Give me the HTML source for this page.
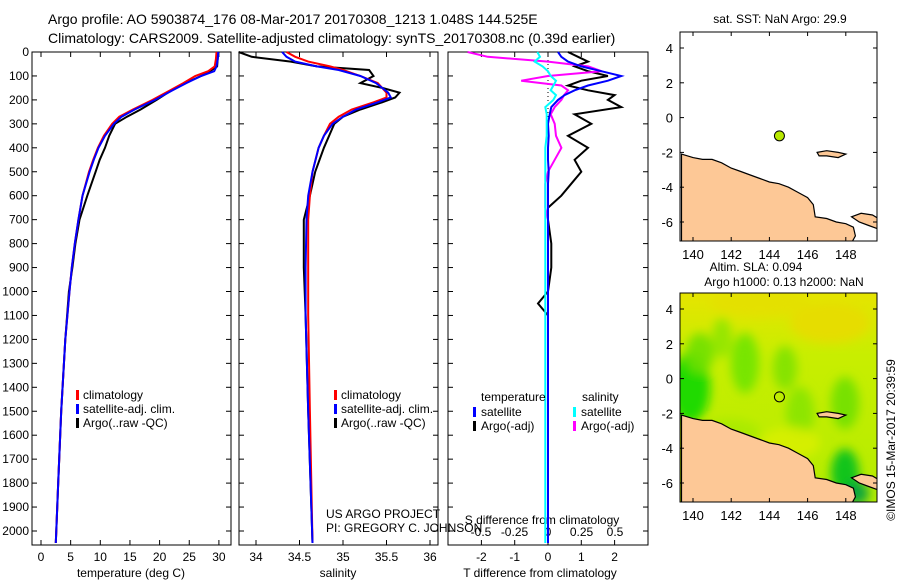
<!DOCTYPE html>
<html><head><meta charset="utf-8"><style>
body{margin:0;background:#fff;}
svg{display:block;font-family:"Liberation Sans",sans-serif;}
text{font-size:12px;fill:#000;}
</style></head><body>
<svg id="fig" width="900" height="580" xmlns="http://www.w3.org/2000/svg">
<defs>
<linearGradient id="slagrad" x1="0" y1="0" x2="0" y2="1">
<stop offset="0" stop-color="#e6e400"/><stop offset="0.3" stop-color="#c8ee00"/><stop offset="1" stop-color="#b4ec00"/>
</linearGradient>
<filter id="blur" x="-50%" y="-50%" width="200%" height="200%"><feGaussianBlur stdDeviation="5"/></filter>
<clipPath id="clip0"><rect x="680" y="32" width="197" height="209"/></clipPath>
<clipPath id="clip1"><rect x="680" y="293" width="197" height="209"/></clipPath>
</defs>
<text x="48" y="24" style="font-size:14px">Argo profile: AO 5903874_176 08-Mar-2017 20170308_1213 1.048S 144.525E</text>
<text x="48" y="43" style="font-size:14px">Climatology: CARS2009. Satellite-adjusted climatology: synTS_20170308.nc (0.39d earlier)</text>
<g id="g"></g>
</svg>
<script>
// ---- data ----
const depthT = [0,30,60,80,100,130,160,200,240,270,300,350,400,450,500,600,700,800,900,1000,1200,1500,1800,2050];
const tempClim = [29.6,29.5,29.3,28.2,26.0,24.0,21.8,18.8,15.5,13.2,12.0,10.6,9.6,8.8,8.1,7.0,6.3,5.7,5.2,4.8,4.1,3.4,2.9,2.5];
const tempSat  = [29.9,29.8,29.6,29.2,27.0,24.5,22.2,19.2,15.8,13.6,12.3,10.8,9.7,8.9,8.2,7.0,6.3,5.7,5.2,4.8,4.1,3.4,2.9,2.5];
const tempArgo = [29.9,29.8,29.7,28.5,27.0,24.3,22.0,19.5,16.8,14.5,12.5,11.5,10.8,9.9,9.2,7.8,6.5,5.8,5.3,4.7,4.1,3.4,2.9,2.5];
const depthS = [0,20,40,60,75,100,130,150,170,190,210,240,270,300,350,400,500,600,700,900,1100,1500,2050];
const salClim = [34.35,34.45,34.6,34.85,35.0,35.2,35.4,35.45,35.5,35.5,35.35,35.1,34.95,34.85,34.78,34.72,34.65,34.62,34.6,34.6,34.6,34.62,34.65];
const salSat  = [34.3,34.35,34.45,34.7,34.95,35.2,35.38,35.45,35.52,35.55,35.4,35.15,35.0,34.88,34.78,34.72,34.65,34.6,34.58,34.57,34.57,34.6,34.65];
const salArgo = [33.8,33.95,34.4,34.7,35.3,35.35,35.2,35.45,35.65,35.6,35.45,35.2,35.0,34.9,34.84,34.78,34.68,34.62,34.55,34.55,34.57,34.6,34.65];
const depthD = [0,20,40,60,80,100,120,140,160,180,200,230,260,300,350,400,450,500,550,600,650,700,800,900,1000,1050,1100,1300,1600,2050];
const tDiffSat  = [0.3,0.4,0.6,1.0,1.6,2.2,1.8,1.2,0.8,0.5,0.3,0.1,0.05,0.0,0.02,0.0,0.0,0.02,0.0,0.0,0.0,0.0,0.0,0.0,0.0,0.0,0.0,0.0,0.0,0.0];
const tDiffArgo = [0.6,0.9,1.2,0.8,1.2,1.8,1.0,0.6,1.2,2.0,1.8,2.2,0.8,1.3,0.6,1.2,0.8,1.0,0.7,0.4,0.0,0.0,0.1,0.1,0.0,-0.3,0.0,0.0,0.0,0.0];
const sDiffSat  = [-0.08,-0.06,-0.1,-0.04,0.0,0.02,0.06,0.04,0.02,0.06,0.04,-0.02,-0.01,-0.01,-0.01,-0.02,-0.02,-0.02,-0.02,-0.02,-0.02,-0.02,-0.02,-0.02,-0.02,-0.02,-0.02,-0.02,-0.02,-0.02];
const sDiffArgo = [-0.6,-0.45,0.0,0.3,0.4,0.0,-0.2,0.1,0.15,0.12,0.1,0.05,0.02,0.05,0.06,0.1,0.05,0.0,-0.02,-0.02,-0.02,0.0,0.0,0.0,0.0,0.0,0.0,0.0,0.0,0.0];
const depthTicks = [0,100,200,300,400,500,600,700,800,900,1000,1100,1200,1300,1400,1500,1600,1700,1800,1900,2000];
const tempTicks = [0,5,10,15,20,25,30];
const salTicks = [34,34.5,35,35.5,36];
const tdTicks = [-2,-1,0,1,2];
const sdTicks = [-0.5,-0.25,0,0.25,0.5];
const sdTickLabels = ["-0.5","-0.25","0","0.25","0.5"];
const lonTicks = [140,142,144,146,148];
const latTicks = [4,2,0,-2,-4,-6];
const coastLon = [139.4,140,140.5,141,141.5,142,142.5,143,143.5,144,144.5,145,145.5,146,146.3,146.4,147,147.5,148,148.4,148.5,148.3,148.6,149.7,149.7,139.4];
const coastLat = [-2.1,-2.3,-2.4,-2.4,-2.6,-2.9,-3.1,-3.3,-3.5,-3.7,-3.8,-4.0,-4.3,-4.6,-5.0,-5.7,-5.8,-6.0,-6.1,-6.3,-6.8,-7.2,-7.2,-7.2,-7.2,-7.2];
const nbLon = [148.3,148.8,149.4,149.7,149.7,149.2,148.7,148.3];
const nbLat = [-5.7,-5.5,-5.6,-5.8,-6.4,-6.2,-6.0,-5.7];
const islLon = [146.5,147.0,147.6,148.0,147.6,147.0,146.6];
const islLat = [-2.0,-1.9,-2.0,-2.1,-2.3,-2.2,-2.2];
const argoLon = 144.525, argoLat = -1.048;
// ---- helpers ----
const NS="http://www.w3.org/2000/svg";
const G=document.getElementById('g');
function el(t,a,p){const e=document.createElementNS(NS,t);for(const k in a)e.setAttribute(k,a[k]);(p||G).appendChild(e);return e;}
const Y0=52, YS=0.2395;
function yD(d){return Y0+d*YS;}
function panel(x0,x1,name){
  const r=el('rect',{x:x0,y:52,width:x1-x0,height:493,fill:'none',stroke:'#000','stroke-width':1});
  
  
}
function line(xs,ys,fx,color,name,w){
  let d='';xs.forEach((v,i)=>{d+=(i?'L':'M')+fx(v).toFixed(1)+','+yD(ys[i]).toFixed(1);});
  const p=el('path',{d:d,fill:'none',stroke:color,'stroke-width':w||2});
  
  
}
function txt(x,y,s,anchor,name,size,parent){
  const t=el('text',{x:x,y:y,'text-anchor':anchor||'start'},parent);t.textContent=s;
  if(size)t.style.fontSize=size+'px';
  
  
  return t;
}
function xticks(fx,ticks,labels,ylab,name){
  ticks.forEach((v,i)=>{const x=fx(v);
    el('line',{x1:x,x2:x,y1:545,y2:540,stroke:'#000'});el('line',{x1:x,x2:x,y1:52,y2:57,stroke:'#000'});
    txt(x,ylab,labels?labels[i]:String(v),'middle',name);});
}
// panel 1
const fT=v=>41+v*5.93;
panel(32,231,'temperature-panel');
depthTicks.forEach(d=>{const y=yD(d);el('line',{x1:32,x2:37,y1:y,y2:y,stroke:'#000'});el('line',{x1:226,x2:231,y1:y,y2:y,stroke:'#000'});txt(29,y+4,String(d),'end','depth-tick-label');});
xticks(fT,tempTicks,null,561,'temp-tick-label');
txt(131,577,'temperature (deg C)','middle','temp-axis-title');
line(tempArgo,depthT,fT,'#000','temp-argo-line');
line(tempClim,depthT,fT,'#f00','temp-clim-line');
line(tempSat,depthT,fT,'#00f','temp-sat-line');
// panel 2
const fS=v=>256+(v-34)*87;
panel(239,438,'salinity-panel');
depthTicks.forEach(d=>{const y=yD(d);el('line',{x1:239,x2:244,y1:y,y2:y,stroke:'#000'});el('line',{x1:433,x2:438,y1:y,y2:y,stroke:'#000'});});
xticks(fS,salTicks,null,561,'sal-tick-label');
txt(338,577,'salinity','middle','sal-axis-title');
line(salArgo,depthS,fS,'#000','sal-argo-line');
line(salClim,depthS,fS,'#f00','sal-clim-line');
line(salSat,depthS,fS,'#00f','sal-sat-line');
// legends
[[76,'temp-legend'],[334,'sal-legend']].forEach(([lx,n])=>{
  [['#f00','climatology'],['#00f','satellite-adj. clim.'],['#000','Argo(..raw -QC)']].forEach((it,i)=>{
    const y=398+i*14;el('rect',{x:lx,y:y-8,width:3,height:10,fill:it[0]});txt(lx+7,y+1,it[1],'start',n+'-entry');});
});
txt(326,518,'US ARGO PROJECT','start','credit-line-1');
txt(326,532,'PI: GREGORY C. JOHNSON','start','credit-line-2');
// panel 3
const fTd=v=>548+v*33.3, fSd=v=>548+v*134;
panel(448,648,'difference-panel');
depthTicks.forEach(d=>{const y=yD(d);el('line',{x1:448,x2:453,y1:y,y2:y,stroke:'#000'});el('line',{x1:643,x2:648,y1:y,y2:y,stroke:'#000'});});
el('line',{x1:548,x2:548,y1:52,y2:130,stroke:'#000','stroke-dasharray':'1,3'});
xticks(fTd,tdTicks,null,561,'tdiff-tick-label');
sdTicks.forEach((v,i)=>txt(fSd(v),536,sdTickLabels[i],'middle','sdiff-tick-label'));
txt(542,524,'S difference from climatology','middle','sdiff-axis-title');
txt(540,577,'T difference from climatology','middle','tdiff-axis-title');
line(tDiffArgo,depthD,fTd,'#000','tdiff-argo-line');
line(sDiffArgo,depthD,fSd,'#f0f','sdiff-argo-line');
line(tDiffSat,depthD,fTd,'#00f','tdiff-sat-line');
line(sDiffSat,depthD,fSd,'#0ff','sdiff-sat-line');
txt(481,401,'temperature','start','diff-legend-temp-header');
txt(582,401,'salinity','start','diff-legend-sal-header');
[['#00f','satellite',473],['#000','Argo(-adj)',473],['#0ff','satellite',573],['#f0f','Argo(-adj)',573]].forEach((it,i)=>{
  const y=415+(i%2)*14;el('rect',{x:it[2],y:y-8,width:3,height:10,fill:it[0]});txt(it[2]+8,y+1,it[1],'start','diff-legend-entry');});
// maps
const fLon=v=>693+(v-140)*19.1;
function map(y0,name,field,clip){
  const fLat=v=>y0+16+(4-v)*17.4;
  const x0=680,w=197,h=209;
  const grp=el('g',{});
  const inner=el('g',{'clip-path':'url(#'+clip+')'},grp);
  el('rect',{x:x0,y:y0,width:w,height:h,fill:field?'url(#slagrad)':'#fff'},inner);
  if(field){
    const bl=el('g',{filter:'url(#blur)'},inner);
    const blobs=[[690,y0+95,20,35,'#10d800'],[700,y0+60,14,20,'#70e000'],[745,y0+70,14,30,'#70e400'],[722,y0+45,10,20,'#90e600'],[785,y0+75,12,22,'#80e200'],[800,y0+120,14,26,'#88e400'],[845,y0+110,14,26,'#70e000'],[830,y0+30,40,20,'#e8dc00'],[760,y0+10,50,14,'#e4e000'],[790,y0+150,30,16,'#d8f000'],[845,y0+180,14,24,'#00c020'],[857,y0+200,12,12,'#00a040'],[810,y0+200,14,10,'#40d000'],[730,y0+140,30,14,'#a8ea00']];
    blobs.forEach(b=>el('ellipse',{cx:b[0],cy:b[1],rx:b[2],ry:b[3],fill:b[4],opacity:0.9},bl));
  }
  const poly=(lo,la,fill)=>{let d='';lo.forEach((v,i)=>{d+=(i?'L':'M')+fLon(v).toFixed(1)+','+fLat(la[i]).toFixed(1);});el('path',{d:d+'Z',fill:fill,stroke:'#000','stroke-width':1.2},inner);};
  poly(coastLon,coastLat,'#fdc896');
  poly(nbLon,nbLat,'#fdc896');
  poly(islLon,islLat,'#fdc896');
  el('circle',{cx:fLon(argoLon),cy:fLat(argoLat),r:5,fill:field?'none':'#b8e800',stroke:'#000'},inner);
  el('rect',{x:x0,y:y0,width:w,height:h,fill:'none',stroke:'#000'},grp);
  lonTicks.forEach(v=>{const x=fLon(v);el('line',{x1:x,x2:x,y1:y0,y2:y0+4,stroke:'#000'},grp);el('line',{x1:x,x2:x,y1:y0+h,y2:y0+h-4,stroke:'#000'},grp);txt(x,y0+h+18,String(v),'middle','lon-tick-label',13,grp);});
  latTicks.forEach(v=>{const y=fLat(v);el('line',{x1:x0,x2:x0+4,y1:y,y2:y,stroke:'#000'},grp);el('line',{x1:x0+w,x2:x0+w-4,y1:y,y2:y,stroke:'#000'},grp);txt(673,y+5,String(v),'end','lat-tick-label',13,grp);});
}
map(32,'sst-map',false,'clip0');
map(293,'sla-map',true,'clip1');
txt(780,23,'sat. SST: NaN Argo: 29.9','middle','sst-map-title',12);
txt(756,271,'Altim. SLA: 0.094','middle','sla-map-title-1',12);
txt(784,286,'Argo h1000: 0.13 h2000: NaN','middle','sla-map-title-2',12);
const st=txt(0,0,'©IMOS 15-Mar-2017 20:39:59','middle','timestamp',12);
st.setAttribute('transform','translate(895,440) rotate(-90)');
</script>
</body></html>
